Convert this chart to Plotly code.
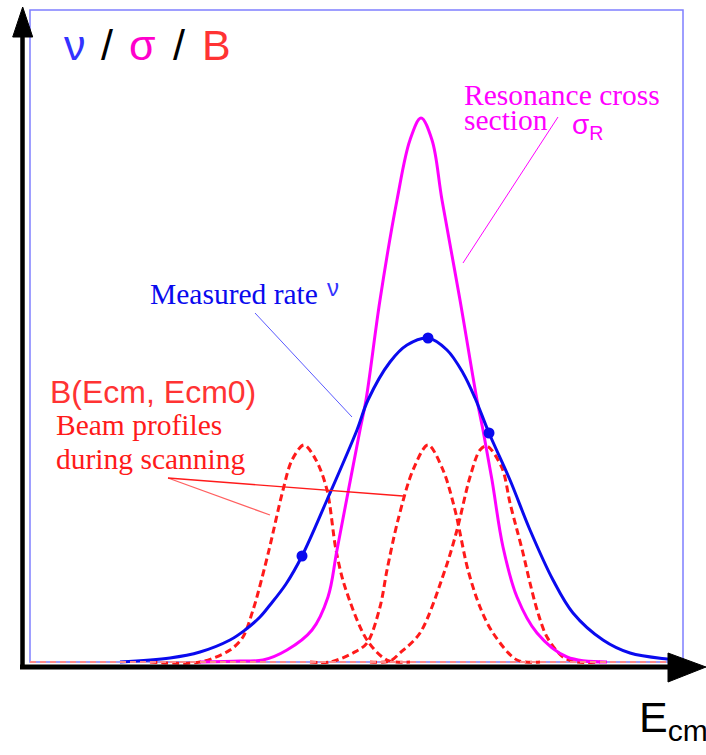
import plotly.graph_objects as go

# Energy (x) and signal height (y) (arbitrary units)
sigma_E = [200, 240, 263, 287, 312, 328, 337, 360, 366, 380, 397, 410, 421, 432, 442, 460, 477, 483, 492, 503, 517, 537, 567, 607]
sigma_V = [0, 1, 2, 12, 32, 65, 112, 232, 262, 362, 462, 522, 544, 522, 462, 362, 262, 232, 182, 115, 65, 29, 5, 0]

rate_E = [120, 170, 200, 230, 245, 260, 270, 286, 302, 327, 357, 368, 390, 407, 428, 447, 463, 475, 489, 510, 530, 553, 573, 603, 630, 667, 680]
rate_V = [0, 4, 10, 22, 32, 45, 57, 78, 106, 162, 232, 262, 300, 317, 324, 312, 289, 264, 229, 182, 132, 82, 49, 22, 9, 3, 2]

meas_E = [302, 428, 489]
meas_V = [106, 324, 229]

beam1_E = [150, 200, 230, 243, 253, 258, 269, 283, 292, 304, 316, 327, 336, 345, 367, 387, 410]
beam1_V = [0, 0, 12, 25, 52, 69, 112, 172, 202, 217, 202, 172, 112, 75, 22, 2, 0]

beam2_E = [310, 330, 353, 367, 380, 387, 398, 413, 428, 443, 455, 468, 480, 493, 517, 540]
beam2_V = [0, 0, 9, 19, 55, 92, 142, 192, 217, 192, 152, 92, 55, 29, 2, 0]

beam3_E = [370, 390, 400, 420, 445, 457, 470, 480, 487, 502, 510, 517, 523, 530, 538, 547, 563, 577, 600]
beam3_V = [0, 1, 9, 29, 92, 132, 185, 212, 216, 194, 159, 132, 109, 79, 49, 25, 5, 0, 0]

title_parts = ["ν", "/", "σ", "/", "B"]
title_colors = ["#3333ff", "black", "#ff00cc", "black", "#ff3333"]
title_x = [62, 99, 127, 171, 200]

BLUE = "#0a0aee"
MAG = "#ff00ff"
RED = "#ff1a1a"

fig = go.Figure()

# frame
fig.add_shape(type="rect", x0=30, x1=683, y0=0, y1=652, line=dict(color="#7f7fff", width=1.5), layer="below")
# light baseline
fig.add_shape(type="line", x0=30, x1=668, y0=0, y1=0, line=dict(color="#ff8a8a", width=2, dash="6px,4px"))

for xs, ys in [(beam1_E, beam1_V), (beam2_E, beam2_V), (beam3_E, beam3_V)]:
    fig.add_trace(go.Scatter(x=xs, y=ys, mode="lines", line=dict(color=RED, width=3, dash="7px,4px", shape="spline", smoothing=0.9), hoverinfo="skip"))

fig.add_trace(go.Scatter(x=sigma_E, y=sigma_V, mode="lines", line=dict(color=MAG, width=3, shape="spline", smoothing=1.0), hoverinfo="skip"))
fig.add_trace(go.Scatter(x=rate_E, y=rate_V, mode="lines", line=dict(color=BLUE, width=3, shape="spline", smoothing=1.0), hoverinfo="skip"))
fig.add_trace(go.Scatter(x=meas_E, y=meas_V, mode="markers", marker=dict(color=BLUE, size=11), hoverinfo="skip"))

# axes arrows
fig.add_shape(type="line", x0=22.5, x1=22.5, y0=-6, y1=630, line=dict(color="black", width=4.5))
fig.add_shape(type="path", path="M 12.7 625 L 32.7 625 L 22.7 655 Z", fillcolor="black", line=dict(color="black", width=1))
fig.add_shape(type="line", x0=20, x1=672, y0=-5, y1=-5, line=dict(color="black", width=5))
fig.add_shape(type="path", path="M 668 9 L 668 -20 L 706 -5 Z", fillcolor="black", line=dict(color="black", width=1))

# leader lines
fig.add_shape(type="line", x0=558, y0=545, x1=463, y1=399, line=dict(color=MAG, width=1))
fig.add_shape(type="line", x0=255, y0=349, x1=352, y1=245, line=dict(color="#5a5aff", width=1))
fig.add_shape(type="line", x0=168, y0=184, x1=270, y1=147, line=dict(color="#ff6060", width=1.3))
fig.add_shape(type="line", x0=168, y0=184, x1=403, y1=166, line=dict(color=RED, width=1.3))

SANS = "Liberation Sans, Arial, sans-serif"
SERIF = "Liberation Serif, Times New Roman, serif"

def ann(x, y, text, size, color, family):
    fig.add_annotation(x=x, y=y, text=text, showarrow=False, xanchor="left", yanchor="middle",
                       font=dict(size=size, color=color, family=family))

for t, c, x in zip(title_parts, title_colors, title_x):
    ann(x, 617, t, 43, c, SANS)
ann(462, 567, "Resonance cross", 29.5, MAG, SERIF)
ann(462, 542, "section", 29.5, MAG, SERIF)
ann(570, 536, "σ<sub>R</sub>", 28, MAG, SANS)
ann(148, 368, "Measured rate", 29.5, BLUE, SERIF)
ann(325, 375, "ν", 24, "#3333ff", SANS)
ann(48, 270, "B(Ecm, Ecm0)", 32, "#ff3333", SANS)
ann(54, 237, "Beam profiles", 29.5, RED, SERIF)
ann(54, 203, "during scanning", 29.5, RED, SERIF)
ann(637, -58, "E<sub>cm</sub>", 43, "black", SANS)

fig.update_layout(width=706, height=755, margin=dict(l=0, r=0, t=0, b=0),
                  paper_bgcolor="white", plot_bgcolor="white", showlegend=False,
                  xaxis=dict(range=[0, 706], visible=False, fixedrange=True),
                  yaxis=dict(range=[-93, 662], visible=False, fixedrange=True))

fig.write_html("out.html")
